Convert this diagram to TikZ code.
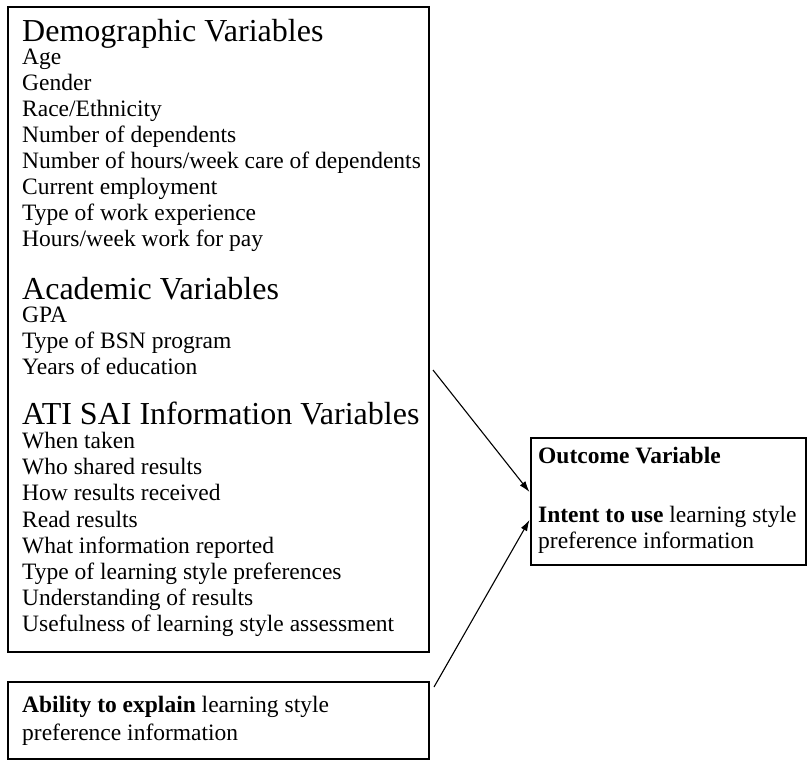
\documentclass[tikz,border=0pt]{standalone}
\usepackage{fontspec}
\setmainfont{Liberation Serif}
\usetikzlibrary{arrows.meta}
\begin{document}
\begin{tikzpicture}[x=1pt,y=-1pt,
  box/.style={draw, line width=2pt, minimum width=#1, inner sep=0pt, outer sep=0pt},
  hdr/.style={anchor=base west, inner sep=0pt, font=\fontsize{32}{34}\selectfont},
  item/.style={anchor=base west, inner sep=0pt, font=\fontsize{23.5}{26}\selectfont},
  arr/.style={line width=1.1pt, -{Latex[length=11pt,width=7pt]}}]
\useasboundingbox (0,0) rectangle (809,762);
% boxes
\node[box=421.5, minimum height=645] (box1) at (218.25,329.5) {};
\node[box=421.5, minimum height=77] (box2) at (218.25,720.5) {};
\node[box=275, minimum height=127] (out) at (668.5,501.5) {};
% demographic
\node[hdr] (demoh) at (22,42) {Demographic Variables};
\foreach \t [count=\i] in {Age, Gender, Race/Ethnicity, Number of dependents,
  Number of hours/week care of dependents, Current employment,
  Type of work experience, Hours/week work for pay}
  \node[item] (d\i) at (22,{65+26*(\i-1)}) {\t};
% academic
\node[hdr] (acadh) at (22,299.5) {Academic Variables};
\foreach \t [count=\i] in {GPA, Type of BSN program, Years of education}
  \node[item] (a\i) at (22,{322.5+25.8*(\i-1)}) {\t};
% ATI SAI
\node[hdr] (atih) at (22,424.5) {ATI SAI Information Variables};
\foreach \t [count=\i] in {When taken, Who shared results, How results received,
  Read results, What information reported, Type of learning style preferences,
  Understanding of results, Usefulness of learning style assessment}
  \node[item] (s\i) at (22,{448.5+26.2*(\i-1)}) {\t};
% outcome
\node[item] (o1) at (538,463) {\textbf{Outcome Variable}};
\node[item] (o2) at (538,522) {\textbf{Intent to use} learning style};
\node[item] (o3) at (538,548) {preference information};
% ability
\node[item] (b1) at (22,712) {\textbf{Ability to explain} learning style};
\node[item] (b2) at (22,740) {preference information};
% connectors
\coordinate (a1s) at (433,370);
\coordinate (a1e) at (out.west |- 0,492);
\coordinate (a2s) at (434,687);
\coordinate (a2e) at (out.west |- 0,520);
\draw[arr] (a1s) -- ([xshift=-1.5pt]a1e);
\draw[arr] (a2s) -- ([xshift=-1.5pt]a2e);
\end{tikzpicture}
\end{document}
